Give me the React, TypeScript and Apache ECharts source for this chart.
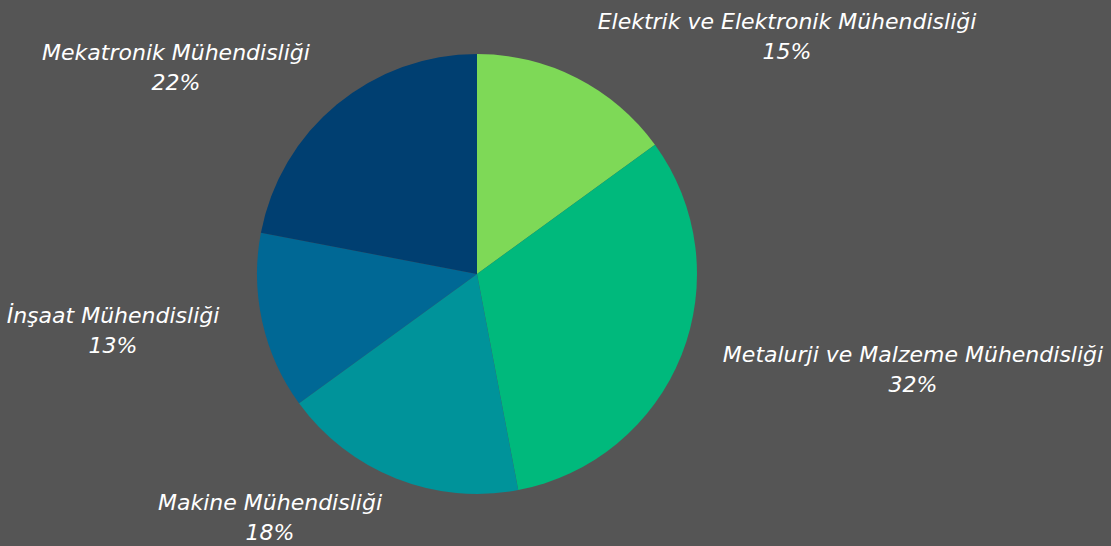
import React, { useEffect, useRef } from "react";
import * as echarts from "echarts";

const categories = [
  "Elektrik ve Elektronik Mühendisliği",
  "Metalurji ve Malzeme Mühendisliği",
  "Makine Mühendisliği",
  "İnşaat Mühendisliği",
  "Mekatronik Mühendisliği",
];
const values = [15, 32, 18, 13, 22];
const colors = ["#7ED957", "#00B97C", "#00939A", "#006895", "#003F71"];
const labelPos: [number, number][] = [
  [787, 36],
  [913, 369],
  [270, 517],
  [113, 330],
  [176, 67],
];

export default function App() {
  const ref = useRef<HTMLDivElement>(null);
  useEffect(() => {
    if (!ref.current) return;
    const chart = echarts.init(ref.current, null, { renderer: "svg" });
    chart.setOption({
      animation: false,
      backgroundColor: "#555555",
      series: [
        {
          type: "pie",
          center: [477, 274],
          radius: 220,
          startAngle: 90,
          clockwise: true,
          avoidLabelOverlap: false,
          data: categories.map((c, i) => ({
            name: c,
            value: values[i],
            itemStyle: { color: colors[i] },
          })),
          label: {
            show: true,
            position: "outside",
            formatter: (p: any) => `${p.name}\n${p.value}%`,
            color: "#FFFFFF",
            fontFamily: "'DejaVu Sans ExtraLight', 'DejaVu Sans'",
            fontStyle: "italic",
            fontWeight: 200,
            fontSize: 22,
            lineHeight: 30,
            align: "center",
            overflow: "none",
            width: 500,
          },
          labelLine: { show: false },
          labelLayout: (params: any) => {
            const p = labelPos[params.dataIndex];
            return { x: p[0], y: p[1], align: "center", verticalAlign: "middle" };
          },
          emphasis: { disabled: true },
        },
      ],
    });
    return () => chart.dispose();
  }, []);
  return (
    <div
      ref={ref}
      style={{ position: "fixed", left: 0, top: 0, width: 1111, height: 546 }}
    />
  );
}
